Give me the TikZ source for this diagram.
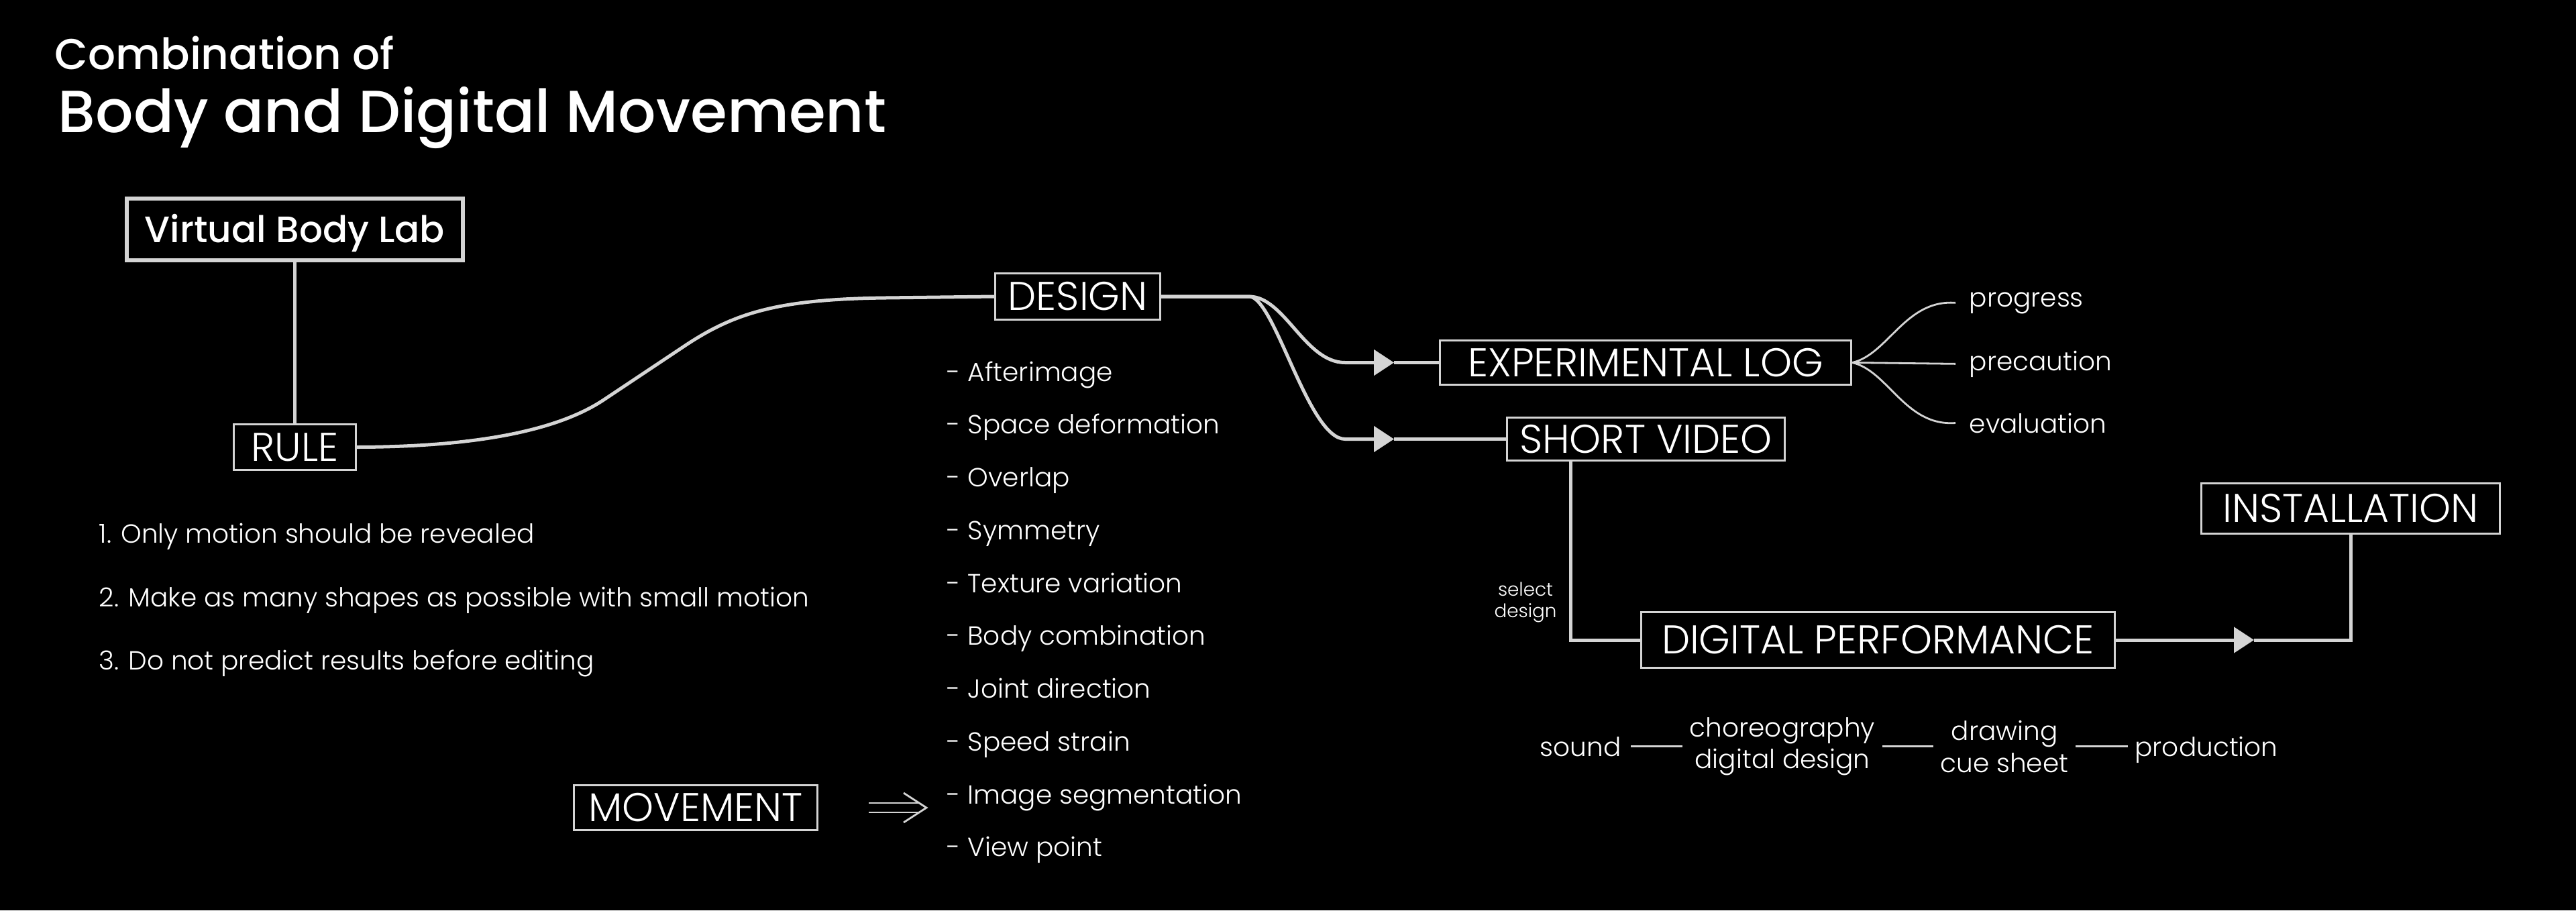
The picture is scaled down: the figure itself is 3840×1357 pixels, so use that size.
\documentclass[tikz,border=0pt]{standalone}
\usepackage{fontspec}
\setmainfont{Poppins Light}
\newfontfamily\medf{Poppins Medium}
\usetikzlibrary{arrows.meta,calc}
\definecolor{linec}{HTML}{D4D4D4}
\begin{document}
\begin{tikzpicture}[x=0.01cm,y=-0.01cm,
  conn/.style={draw=linec, line width=0.05cm},
  thinconn/.style={draw=linec, line width=0.028cm},
  tipend/.style={-{Triangle[length=0.3cm,width=0.38cm]}},
  box/.style={draw=linec, line width=0.03cm, fill=black, text=white, inner sep=0pt,
    font=\fontsize{17}{20}\selectfont, text height=11.9pt, text depth=0pt},
  body/.style={text=white, inner sep=0pt, font=\fontsize{11.1}{13.4}\selectfont, anchor=base west},
  twoline/.style={text=white, inner ysep=0pt, inner xsep=0.1cm, align=center, font=\fontsize{11.1}{13.4}\selectfont}
]
\fill[black] (0,0) rectangle (3840,1357);
\useasboundingbox (0,0) rectangle (3840,1357);

% titles
\node[anchor=base west, inner sep=0pt, text=white, font=\medf\fontsize{18.3}{21}\selectfont] (t1) at (81,103) {Combination of};
\node[anchor=base west, inner sep=0pt, text=white, font=\medf\fontsize{25.2}{28}\selectfont] (t2) at (86,197) {Body and Digital Movement};

% boxes
\node[box, line width=0.06cm, font=\medf\fontsize{15.6}{18}\selectfont, text height=10.9pt,
  minimum width=5.01cm, minimum height=0.92cm] (vbl) at (439.5,342) {Virtual Body Lab};
\node[box, minimum width=1.82cm, minimum height=0.68cm] (rule) at (439.5,666.5) {RULE};
\node[box, minimum width=2.46cm, minimum height=0.69cm] (design) at (1606.5,442) {DESIGN};
\node[box, minimum width=6.13cm, minimum height=0.66cm] (exp) at (2453,540.5) {EXPERIMENTAL LOG};
\node[box, minimum width=4.14cm, minimum height=0.64cm] (sv) at (2453.5,654.5) {SHORT VIDEO};
\node[box, minimum width=7.06cm, minimum height=0.83cm] (dp) at (2799.5,954) {DIGITAL PERFORMANCE};
\node[box, minimum width=4.45cm, minimum height=0.75cm] (inst) at (3504,758) {INSTALLATION};
\node[box, minimum width=3.63cm, minimum height=0.67cm] (mov) at (1037,1204) {MOVEMENT};

% rules list
\node[body] (r1) at (147,809) {1. Only motion should be revealed};
\node[body] (r2) at (147,904) {2. Make as many shapes as possible with small motion};
\node[body] (r3) at (147,998) {3. Do not predict results before editing};

% design list
\foreach \t [count=\i from 0] in {Afterimage,Space deformation,Overlap,Symmetry,Texture variation,Body combination,Joint direction,Speed strain,Image segmentation,View point}{
  \node[body] (d\i) at (1411,568+\i*78.75) {- \t};
}

% right-side labels
\node[body, inner xsep=0.2cm] (prog) at (2915,457) {progress};
\node[body, inner xsep=0.2cm] (prec) at (2915,552) {precaution};
\node[body, inner xsep=0.2cm] (eval) at (2915,645) {evaluation};

\node[text=white, inner sep=0pt, align=center, font=\fontsize{7.9}{9.1}\selectfont] (sel) at (2274,898) {select\\design};

% bottom row
\node[body, anchor=base, inner xsep=0.14cm] (snd) at (2356,1127) {sound};
\node[twoline] (chor) at (2657,1113) {choreography\\digital design};
\node[twoline] (drw) at (2988,1113) {drawing\\cue sheet};
\node[body, anchor=base, inner xsep=0.1cm] (prod) at (3289,1127) {production};

% connectors
\draw[conn] (vbl) -- (rule);
\draw[conn, line join=round] (rule.east) .. controls (730,666) and (840,636) .. (900,596)
  -- (1020,516) .. controls (1095,466) and (1160,446) .. (1320,444) -- (design.west);

\coordinate (dsplit) at (1862,442);
\coordinate (ea) at (2078,540.5);
\coordinate (sa) at (2078,654.5);
\draw[conn, tipend] (design.east) -- (dsplit) .. controls (1915,442) and (1945,540.5) .. (2005,540.5) -- (ea);
\draw[conn] (ea) -- (exp.west);
\draw[conn, tipend] (design.east) -- (dsplit) .. controls (1900,442) and (1950,654.5) .. (2005,654.5) -- (sa);
\draw[conn] (sa) -- (sv.west);

\draw[thinconn] (exp.east) .. controls (2815,528) and (2840,446) .. (prog.west);
\draw[thinconn] (exp.east) -- (prec.west);
\draw[thinconn] (exp.east) .. controls (2815,553) and (2840,636) .. (eval.west);

\draw[conn] ($(sv.south west)+(97,0)$) |- (dp.west);

\coordinate (da) at (3360,954);
\draw[conn, tipend] (dp.east) -- (da);
\draw[conn] (da) -| (inst.south);

% movement double arrow
\coordinate (ms) at (1295,1204);
\coordinate (me) at (1381,1204);
\draw[thinconn] ($(ms)+(0,-7)$) -- ($(me)+(-10,-7)$);
\draw[thinconn] ($(ms)+(0,7)$) -- ($(me)+(-10,7)$);
\draw[thinconn, line join=miter] ($(me)+(-34,-22)$) -- (me) -- ($(me)+(-34,22)$);

% bottom dashes
\draw[thinconn] (snd.east) -- (snd.east -| chor.west);
\draw[thinconn] (chor.east |- snd.east) -- (snd.east -| drw.west);
\draw[thinconn] (drw.east |- snd.east) -- (snd.east -| prod.west);
\end{tikzpicture}
\end{document}
